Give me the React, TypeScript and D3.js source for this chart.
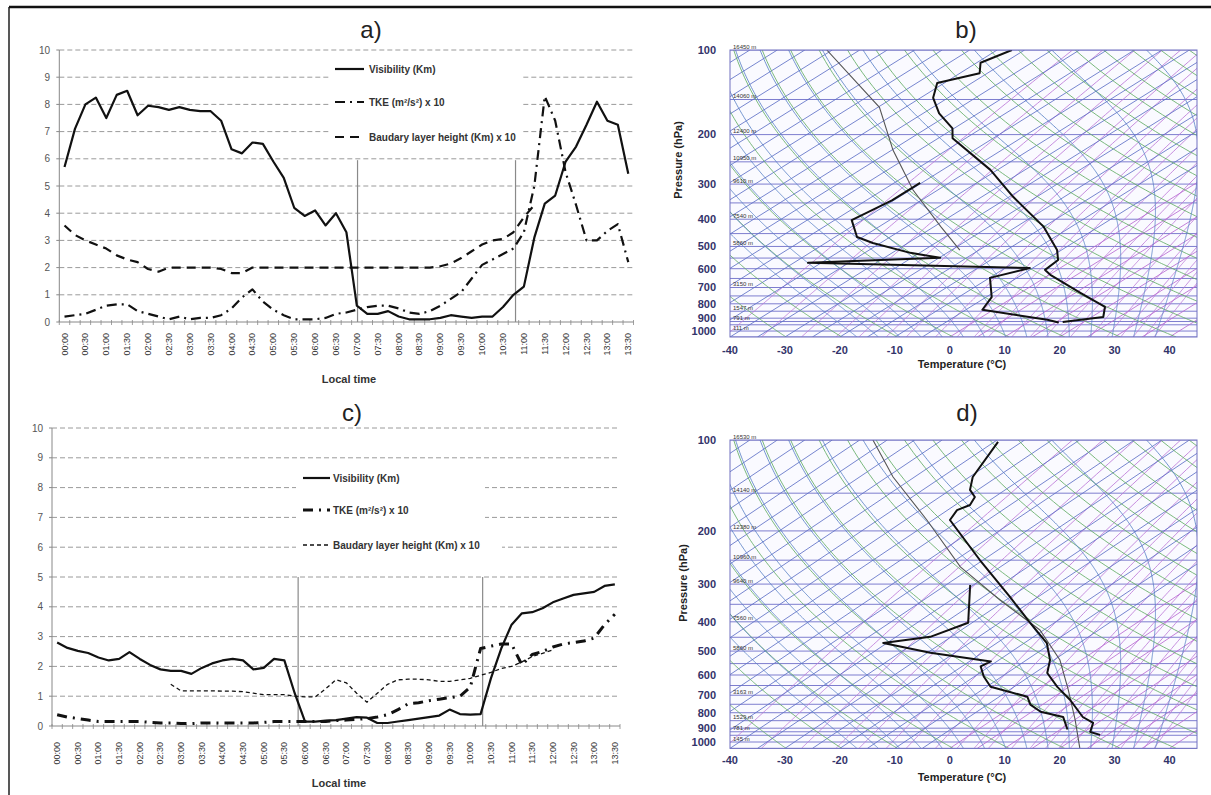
import React from "react";
import * as d3 from "d3";

// ---------- time series data (15-min steps) ----------
const times = ["00:00","00:15","00:30","00:45","01:00","01:15","01:30","01:45","02:00","02:15","02:30","02:45","03:00","03:15","03:30","03:45","04:00","04:15","04:30","04:45","05:00","05:15","05:30","05:45","06:00","06:15","06:30","06:45","07:00","07:15","07:30","07:45","08:00","08:15","08:30","08:45","09:00","09:15","09:30","09:45","10:00","10:15","10:30","10:45","11:00","11:15","11:30","11:45","12:00","12:15","12:30","12:45","13:00","13:15","13:30"];
const yTicks = [0,1,2,3,4,5,6,7,8,9,10];

const visA = [5.7,7.1,8.0,8.25,7.5,8.35,8.5,7.6,7.95,7.9, 7.8,7.9,7.8,7.75,7.75,7.4,6.35,6.2,6.6,6.55, 5.9,5.3,4.2,3.9,4.1,3.55,4.0,3.3,0.6,0.3, 0.3,0.4,0.2,0.1,0.1,0.1,0.15,0.25,0.2,0.15, 0.2,0.2,0.55,1.0,1.3,3.1,4.35,4.65,5.9,6.45, 7.25,8.1,7.4,7.25,5.45];
const tkeA = [0.2,0.25,0.3,0.45,0.6,0.65,0.65,0.4,0.3,0.2, 0.1,0.2,0.1,0.15,0.15,0.25,0.5,0.9,1.2,0.75, 0.45,0.25,0.1,0.1,0.1,0.15,0.3,0.35,0.45,0.55, 0.6,0.6,0.5,0.35,0.3,0.4,0.6,0.85,1.1,1.6, 2.1,2.3,2.5,2.7,3.3,5.0,8.3,7.4,5.5,4.3, 3.0,3.0,3.35,3.6,2.2];
const blhA: (number|null)[] = [3.55,3.2,3.0,2.85,2.7,2.45,2.3,2.2,1.95,1.85, 2.0,2.0,2.0,2.0,2.0,1.95,1.8,1.8,2.0,2.0, 2.0,2.0,2.0,2.0,2.0,2.0,2.0,2.0,2.0,2.0, 2.0,2.0,2.0,2.0,2.0,2.0,2.05,2.15,2.35,2.6, 2.85,3.0,3.05,3.3,3.85,4.3,null,null,null,null, null,null,null,null,null];

const visC = [2.8,2.62,2.52,2.45,2.3,2.2,2.25,2.48,2.25,2.05, 1.9,1.85,1.85,1.75,1.95,2.1,2.2,2.25,2.2,1.9, 1.95,2.25,2.2,1.1,0.15,0.15,0.18,0.2,0.25,0.3, 0.28,0.1,0.1,0.15,0.2,0.25,0.3,0.35,0.55,0.4, 0.38,0.4,1.6,2.6,3.4,3.78,3.82,3.95,4.15,4.28, 4.4,4.45,4.5,4.7,4.75];
const tkeC = [0.38,0.3,0.25,0.2,0.15,0.15,0.15,0.15,0.15,0.12, 0.1,0.1,0.08,0.08,0.1,0.1,0.1,0.1,0.1,0.1, 0.12,0.15,0.15,0.15,0.15,0.15,0.15,0.18,0.2,0.22, 0.25,0.3,0.38,0.55,0.75,0.78,0.85,0.9,0.95,1.0, 1.3,2.6,2.68,2.75,2.75,2.05,2.4,2.5,2.65,2.75, 2.8,2.85,2.95,3.4,3.75];
const blhC: (number|null)[] = [null,null,null,null,null,null,null,null,null,null, null,1.4,1.18,1.18,1.18,1.18,1.17,1.17,1.15,1.1, 1.05,1.05,1.05,1.0,0.98,0.98,1.25,1.55,1.45,1.1, 0.8,1.1,1.4,1.55,1.57,1.57,1.55,1.5,1.5,1.55, 1.6,1.7,1.8,1.93,2.0,2.15,2.33,2.44,2.55,null, null,null,null,null,null];

const markersA = [421, 648]; // minutes after 00:00
const markersC = [350, 618];

const legendLabels = ["Visibility (Km)", "TKE (m\u00B2/s\u00B2) x 10", "Baudary layer height (Km) x 10"];

// ---------- sounding data ----------
const pressureTicks = [100,200,300,400,500,600,700,800,900,1000];
const tempTicks = [-40,-30,-20,-10,0,10,20,30,40];
const isobarLevels = [100,150,200,250,300,350,400,450,500,550,600,650,700,750,800,850,900,925,950,1000,1050];
const heightLevels = [100,150,200,250,300,400,500,700,850,925,1000];
const heightsB = ["16450 m","14060 m","12400 m","10950 m","9610 m","7540 m","5860 m","3150 m","1547 m","791 m","111 m"];
const heightsD = ["16530 m","14140 m","12380 m","10960 m","9640 m","7560 m","5860 m","3163 m","1529 m","781 m","145 m"];

const presTB = [100,111,121,131,148,168,190,206,267,333,425,515,559,606,631,731,821,891,929];
const tempB = [-72.3,-74.3,-71.4,-76.3,-72.7,-67.1,-60.3,-57.4,-41.3,-29.3,-15.1,-5.8,-2.7,-2.2,0.2,10.9,19.5,22.1,16.2];
const presTdB = [297,343,403,463,486,527,549,572,597,647,757,840,911,932];
const dewB = [-50.3,-50.3,-51.9,-46.0,-41.4,-31.7,-24.8,-47.4,-5.5,-9.9,-4.0,-2.0,12.7,15.6];
const presParB = [100,160,227,315,425,515];
const parB = [-106,-79.7,-64.8,-49.5,-33.8,-23.5];

const presTD = [101.5,132.6,146.3,154.4,164.2,170.6,184,249.7,331,403.2,470.2,535.4,590.9,657,726,826.5,865,926,947];
const tempD = [-74.3,-69.4,-66.4,-63.6,-62.3,-63.3,-61.9,-45.6,-30.1,-19.4,-10.9,-5.7,-2.7,2.9,8.8,15.7,19.2,21.1,23.7];
const presTdD = [302,403,448.5,470,506,541,562,607,656,708,752,794,826,909];
const dewD = [-40.6,-30.7,-33.8,-40.7,-29.5,-16.1,-16.6,-13.3,-9.3,0.1,2.8,6.6,12.1,16.3];
const presParD = [100,132.6,184,263,338.7,425.7,535.4,672,845,1048];
const parD = [-97.6,-83.9,-66.1,-47.3,-31.1,-15.7,-3.9,5.7,15.1,23.6];

const isothermValues = d3.range(-125, 46, 5);
const dryThetas = d3.range(220, 491, 10);
const moistThetaW = [-20,-16,-12,-8,-4,0,4,8,12,16,20,24,28,32,36];
const mixingRatios = [0.1,0.2,0.4,0.7,1,1.5,2,3,4,5,6,8,10,12,14,16,20,24,28,32,36,40];

const FONT = "'Liberation Sans', Arial, Helvetica, sans-serif";
const SKEW = 35.56;

// ---------- helpers ----------
function lapse(p: number, T: number) {
  const Tc = T - 273.15;
  const e = 6.112 * Math.exp((17.67 * Tc) / (Tc + 243.5));
  const rs = (0.622 * e) / Math.max(p - e, 1);
  return (287 * T + 2.501e6 * rs) / (1004 + (2.501e6 * 2.501e6 * rs * 0.622) / (287 * T * T)) / p;
}
function moistAdiabat(thetaW: number): [number, number][] {
  const up: [number, number][] = [];
  let T = thetaW + 273.15, p = 1000;
  up.push([p, T]);
  while (p > 100) {
    const dp = 2;
    const k1 = lapse(p, T);
    const k2 = lapse(p - dp / 2, T - (k1 * dp) / 2);
    T -= k2 * dp; p -= dp;
    up.push([p, T]);
  }
  const down: [number, number][] = [];
  let T2 = thetaW + 273.15, p2 = 1000;
  while (p2 < 1050) {
    T2 += lapse(p2, T2) * 2; p2 += 2;
    down.push([p2, T2]);
  }
  return [...down.reverse(), ...up].map(([pp, tt]) => [pp, tt - 273.15]);
}
function dewFromMixing(w: number, p: number) {
  const e = (w * p) / (622 + w);
  const l = Math.log(e / 6.112);
  return (243.5 * l) / (17.67 - l);
}

// ---------- time-series panel ----------
type SeriesStyle = { dash?: string; width: number };
interface PanelCfg {
  xRange: [number, number];
  y0: number; y10: number;
  labelTop: number;
  title: { x: number; y: number };
  markerTop: number;
  markers: number[];
  legend: { sx0: number; sx1: number; tx: number; rows: number[]; boxes: [number, number, number, number][] };
  styles: [SeriesStyle, SeriesStyle, SeriesStyle];
  yLabelX: number;
}

function TimePanel({ cfg, series }: { cfg: PanelCfg; series: (number | null)[][] }) {
  const x = d3.scaleBand<string>().domain(times).range(cfg.xRange);
  const cx = (t: string) => (x(t) ?? 0) + x.bandwidth() / 2;
  const y = d3.scaleLinear().domain([0, 10]).range([cfg.y0, cfg.y10]);
  const tm = d3.scaleLinear().domain([0, 810]).range([cx(times[0]), cx(times[times.length - 1])]);
  const [left, right] = cfg.xRange;
  const mk = (vals: (number | null)[]) =>
    d3.line<number | null>().defined((d) => d != null).x((_, i) => cx(times[i])).y((d) => y(d as number))(vals) ?? "";
  const bounds = d3.range(times.length + 1).map((i) => left + i * x.step());
  return (
    <g fontFamily={FONT}>
      {yTicks.filter((v) => v > 0).map((v) => (
        <line key={v} x1={left} x2={right} y1={y(v)} y2={y(v)} stroke="#9a9a9a" strokeWidth={1} strokeDasharray="5,3" />
      ))}
      {cfg.legend.boxes.map((b, i) => (
        <rect key={i} x={b[0]} y={b[1]} width={b[2]} height={b[3]} fill="#fff" />
      ))}
      <line x1={left} x2={left} y1={y(0)} y2={y(10)} stroke="#888" strokeWidth={1} />
      {yTicks.map((v) => (
        <g key={v}>
          <line x1={left - 3} x2={left} y1={y(v)} y2={y(v)} stroke="#888" />
          <text x={cfg.yLabelX} y={y(v)} dy="0.35em" textAnchor="end" fontSize={10} fill="#555">{v}</text>
        </g>
      ))}
      <line x1={left} x2={right} y1={y(0)} y2={y(0)} stroke="#888" strokeWidth={1} />
      {bounds.map((b, i) => (
        <line key={i} x1={b} x2={b} y1={y(0) - 2} y2={y(0) + 3} stroke="#888" strokeWidth={0.8} />
      ))}
      {times.map((t, i) =>
        i % 2 === 0 ? (
          <text key={t} transform={`translate(${cx(t) + 3},${cfg.labelTop}) rotate(-90)`} textAnchor="end" fontSize={9} fill="#333">{t}</text>
        ) : null
      )}
      {cfg.markers.map((m, i) => (
        <line key={i} x1={tm(m)} x2={tm(m)} y1={y(cfg.markerTop)} y2={y(0)} stroke="#8a8a8a" strokeWidth={1.2} />
      ))}
      {series.map((s, i) => (
        <path key={i} d={mk(s)} fill="none" stroke="#111" strokeWidth={cfg.styles[i].width} strokeDasharray={cfg.styles[i].dash} strokeLinejoin="round" />
      ))}
      {legendLabels.map((lab, i) => (
        <g key={lab}>
          <line x1={cfg.legend.sx0} x2={cfg.legend.sx1} y1={cfg.legend.rows[i]} y2={cfg.legend.rows[i]} stroke="#111" strokeWidth={cfg.styles[i].width} strokeDasharray={cfg.styles[i].dash} />
          <text x={cfg.legend.tx} y={cfg.legend.rows[i]} dy="0.35em" fontSize={10} fontWeight="bold" fill="#333">{lab}</text>
        </g>
      ))}
      <text x={cfg.title.x} y={cfg.title.y} textAnchor="middle" fontSize={11} fontWeight="bold" fill="#333">Local time</text>
    </g>
  );
}

// ---------- skew-T panel ----------
interface SkewProps {
  id: string; top: number; bottom: number;
  presT: number[]; tempT: number[]; presTd: number[]; dew: number[]; presPar: number[]; par: number[];
  heights: string[]; labelY: number; titleY: number; pLabel: { x: number; y: number };
}
function SkewT(pr: SkewProps) {
  const left = 730, right = 1197;
  const y = d3.scaleLog().domain([100, 1050]).range([pr.top, pr.bottom]);
  const xT = d3.scaleLinear().domain([-40, 45]).range([left, right]);
  const X = (T: number, p: number) => xT(T + SKEW * Math.log(1050 / p));
  const pl = (pts: [number, number][]) => d3.line<[number, number]>().x((d) => X(d[1], d[0])).y((d) => y(d[0]))(pts) ?? "";
  const prof = (ps: number[], ts: number[]) => pl(ps.map((p, i) => [p, ts[i]] as [number, number]));
  const samp = d3.range(1050, 99, -5);
  return (
    <g fontFamily={FONT}>
      <defs>
        <clipPath id={`clip-${pr.id}`}>
          <rect x={left} y={pr.top} width={right - left} height={pr.bottom - pr.top} />
        </clipPath>
      </defs>
      <rect x={left} y={pr.top} width={right - left} height={pr.bottom - pr.top} fill="#fafaff" />
      <g clipPath={`url(#clip-${pr.id})`} fill="none">
        {isobarLevels.map((p) => (
          <line key={p} x1={left} x2={right} y1={y(p)} y2={y(p)} stroke="#7d7dcf" strokeWidth={1} />
        ))}
        {mixingRatios.map((w) => (
          <path key={w} d={pl(samp.map((p) => [p, dewFromMixing(w, p)] as [number, number]))} stroke="#bd7ad8" strokeWidth={0.85} />
        ))}
        {isothermValues.map((t) => (
          <line key={t} x1={X(t, 1050)} x2={X(t, 100)} y1={y(1050)} y2={y(100)} stroke={t >= 0 ? "#b96ad2" : "#5f70c6"} strokeWidth={0.85} />
        ))}
        {dryThetas.map((th) => (
          <path key={th} d={pl(samp.map((p) => [p, th * Math.pow(p / 1000, 0.2857) - 273.15] as [number, number]))} stroke="#63ad66" strokeWidth={0.85} />
        ))}
        {moistThetaW.map((tw) => (
          <path key={tw} d={pl(moistAdiabat(tw))} stroke="#5a82c6" strokeWidth={0.85} />
        ))}
        <path d={prof(pr.presPar, pr.par)} stroke="#555" strokeWidth={1.1} />
        <path d={prof(pr.presTd, pr.dew)} stroke="#111" strokeWidth={2} strokeLinejoin="round" />
        <path d={prof(pr.presT, pr.tempT)} stroke="#111" strokeWidth={2} strokeLinejoin="round" />
      </g>
      <rect x={left} y={pr.top} width={right - left} height={pr.bottom - pr.top} fill="none" stroke="#7070c0" strokeWidth={1} />
      {heightLevels.map((p, i) => (
        <text key={p} x={left + 3} y={y(p) - 1.5} fontSize={6} fill="#333">{pr.heights[i]}</text>
      ))}
      {pressureTicks.map((p) => (
        <text key={p} x={716} y={y(p)} dy="0.35em" textAnchor="end" fontSize={11} fontWeight="bold" fill="#33336a">{p}</text>
      ))}
      {tempTicks.map((t) => (
        <text key={t} x={xT(t)} y={pr.labelY} dy="0.35em" textAnchor="middle" fontSize={11} fontWeight="bold" fill="#33336a">{t}</text>
      ))}
      <text x={962} y={pr.titleY} dy="0.35em" textAnchor="middle" fontSize={11} fontWeight="bold" fill="#222">Temperature (°C)</text>
      <text transform={`translate(${pr.pLabel.x},${pr.pLabel.y}) rotate(-90)`} textAnchor="middle" dy="0.35em" fontSize={11} fontWeight="bold" fill="#222">Pressure (hPa)</text>
    </g>
  );
}

const cfgA: PanelCfg = {
  xRange: [59.3, 633.5], y0: 322, y10: 50, labelTop: 333,
  title: { x: 349, y: 383 }, markerTop: 5.95, markers: markersA,
  legend: { sx0: 335, sx1: 364, tx: 369, rows: [69, 102, 137], boxes: [[330, 57, 193, 91]] },
  styles: [{ width: 2.2 }, { width: 2.2, dash: "10,5,2,5" }, { width: 2.2, dash: "9,6" }],
  yLabelX: 50,
};
const cfgC: PanelCfg = {
  xRange: [52, 620], y0: 726, y10: 428, labelTop: 742,
  title: { x: 339, y: 787 }, markerTop: 5, markers: markersC,
  legend: { sx0: 303, sx1: 330, tx: 333, rows: [478, 510, 545], boxes: [[296, 463, 189, 68], [296, 538, 206, 15]] },
  styles: [{ width: 2.2 }, { width: 3, dash: "10,6,2,6" }, { width: 1.3, dash: "4,3" }],
  yLabelX: 43,
};

export default function App() {
  return (
    <svg width={1211} height={795} viewBox="0 0 1211 795" style={{ position: "absolute", left: 0, top: 0, background: "#fff" }}>
      <rect x={0} y={0} width={1211} height={795} fill="#fff" />
      <line x1={9} x2={9} y1={7} y2={795} stroke="#111" strokeWidth={1.4} />
      <line x1={9} x2={1211} y1={7} y2={7} stroke="#111" strokeWidth={2.5} />
      <g fontFamily={FONT} fontSize={24} fill="#222" textAnchor="middle">
        <text x={371} y={38}>a)</text>
        <text x={966} y={38}>b)</text>
        <text x={352} y={421}>c)</text>
        <text x={967} y={421}>d)</text>
      </g>
      <TimePanel cfg={cfgA} series={[visA, tkeA, blhA]} />
      <TimePanel cfg={cfgC} series={[visC, tkeC, blhC]} />
      <SkewT id="b" top={50} bottom={337} presT={presTB} tempT={tempB} presTd={presTdB} dew={dewB} presPar={presParB} par={parB}
        heights={heightsB} labelY={350} titleY={364} pLabel={{ x: 678, y: 160 }} />
      <SkewT id="d" top={440} bottom={748.4} presT={presTD} tempT={tempD} presTd={presTdD} dew={dewD} presPar={presParD} par={parD}
        heights={heightsD} labelY={760} titleY={777} pLabel={{ x: 683, y: 583 }} />
    </svg>
  );
}
